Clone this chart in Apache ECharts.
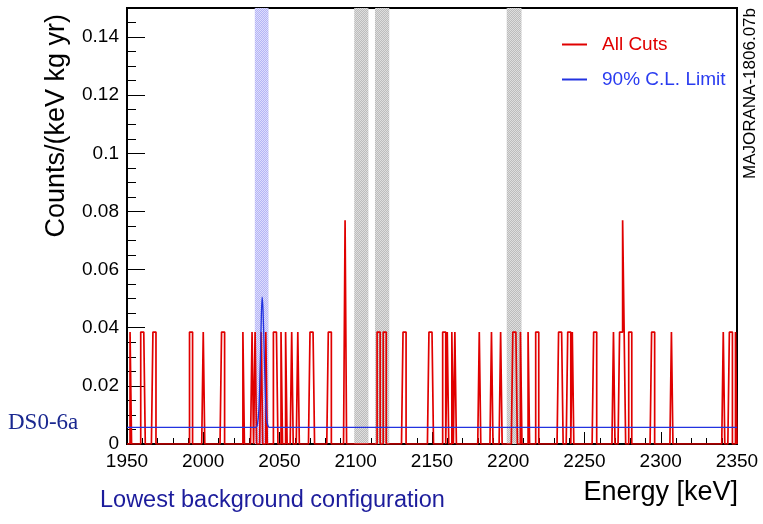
<!DOCTYPE html>
<html>
<head>
    <meta charset="utf-8">
    <title>DS0-6a energy spectrum</title>
    <script src="https://cdn.jsdelivr.net/npm/echarts@6/dist/echarts.min.js"></script>
    <style>
        body { margin: 0; background: #fff; }
        #chart { width: 763px; height: 524px; }
    </style>
</head>
<body>
<div id="chart"></div>
<script>
// events passing all cuts, by 1 keV bin (low edge, keV); repeated = 2 counts
const eventBins = [
    1952, 1959, 1960, 1961, 1967, 1968, 1991, 1992, 2000, 2012, 2013,
    2026, 2032, 2034, 2038, 2041, 2046, 2047, 2048, 2051, 2054, 2058, 2062,
    2070, 2071, 2072, 2082, 2083, 2093, 2093,
    2114, 2115, 2118, 2119, 2131, 2132, 2148, 2149, 2150,
    2157, 2158, 2160, 2163, 2165, 2181, 2189, 2195,
    2203, 2204, 2205, 2208, 2213, 2218, 2219, 2233, 2234, 2235,
    2239, 2240, 2242, 2256, 2257, 2269, 2273, 2274, 2275, 2275, 2276,
    2279, 2280, 2294, 2295, 2307, 2341, 2345, 2346, 2349
];
const countUnit = 0.0385;   // counts/(keV kg yr) for one count

// 90% C.L. limit curve
const limitE = [1950, 2034.5, 2035.5, 2036.5, 2037.3, 2038, 2038.6, 2039.2, 2040, 2040.8, 2041.6, 2042.5, 2043.5, 2350];
const limitY = [0.0057, 0.0057, 0.0066, 0.012, 0.025, 0.042, 0.0505, 0.046, 0.031, 0.016, 0.0085, 0.0062, 0.0057, 0.0057];

// excluded windows
const grayBands = [[2099, 2108.3], [2112.6, 2122], [2199, 2208.7]];
const blueBand = [2033.8, 2042.8];

const xTicks = { min: 1950, max: 2350, step: 50 };
const yTicks = { min: 0, max: 0.15, step: 0.02, minorStep: 0.005 };

// build the histogram outline
const binCount = {};
eventBins.forEach(e => { binCount[e] = (binCount[e] || 0) + 1; });
const histLine = [[xTicks.min, 0]];
for (let e = xTicks.min; e < xTicks.max; e++) {
    const y = (binCount[e] || 0) * countUnit;
    histLine.push([e, y], [e + 1, y]);
}
histLine.push([xTicks.max, 0]);

const limitLine = limitE.map((e, i) => [e, limitY[i]]);

function checker(c1, c2) {
    const cv = document.createElement('canvas');
    cv.width = cv.height = 2;
    const ctx = cv.getContext('2d');
    ctx.fillStyle = c1;
    ctx.fillRect(0, 0, 2, 2);
    ctx.fillStyle = c2;
    ctx.fillRect(0, 0, 1, 1);
    ctx.fillRect(1, 1, 1, 1);
    return { image: cv, repeat: 'repeat' };
}

const font = 'Liberation Sans';
const chart = echarts.init(document.getElementById('chart'));

chart.setOption({
    animation: false,
    textStyle: { fontFamily: font },
    grid: {
        left: 127, right: 26, top: 8, bottom: 80,
        show: true, borderColor: '#000', borderWidth: 2
    },
    legend: {
        orient: 'vertical',
        left: 557, top: 30,
        itemWidth: 25, itemHeight: 2, itemGap: 16,
        icon: 'rect',
        textStyle: { fontSize: 19, fontFamily: font, padding: [0, 0, 0, 10] },
        data: [
            { name: 'All Cuts', textStyle: { color: '#e00000' } },
            { name: '90% C.L. Limit', textStyle: { color: '#2a3cf0' } }
        ]
    },
    xAxis: {
        type: 'value',
        min: xTicks.min, max: xTicks.max, interval: xTicks.step,
        axisLine: { show: false },
        axisTick: { inside: true, length: 12, lineStyle: { color: '#000' } },
        minorTick: { show: true, splitNumber: 5, length: 6, lineStyle: { color: '#000' } },
        splitLine: { show: false },
        axisLabel: { color: '#000', fontSize: 19, margin: 8, formatter: v => String(v) }
    },
    yAxis: [{
        type: 'value',
        min: yTicks.min, max: yTicks.max, interval: yTicks.step,
        axisLine: { show: false },
        axisTick: { inside: true, length: 18, lineStyle: { color: '#000' } },
        splitLine: { show: false },
        axisLabel: {
            color: '#000', fontSize: 19, margin: 8,
            formatter: v => v > 0.145 ? '' : String(+v.toFixed(2))
        }
    }, {
        type: 'value',
        position: 'left',
        min: yTicks.min, max: yTicks.max, interval: yTicks.minorStep,
        axisLine: { show: false },
        axisTick: { inside: true, length: 9, lineStyle: { color: '#000' } },
        splitLine: { show: false },
        axisLabel: { show: false }
    }],
    series: [{
        name: 'bands',
        type: 'line',
        data: [],
        silent: true,
        z: 1,
        markArea: {
            silent: true,
            data: grayBands.map(b => [
                { xAxis: b[0], itemStyle: { color: checker('#bcbcbc', '#dedede') } },
                { xAxis: b[1] }
            ]).concat([[
                { xAxis: blueBand[0], itemStyle: { color: checker('#b4b4f6', '#dedefc') } },
                { xAxis: blueBand[1] }
            ]])
        }
    }, {
        name: 'All Cuts',
        type: 'line',
        data: histLine,
        showSymbol: false,
        color: '#e00000',
        lineStyle: { width: 1.7, color: '#e00000' },
        z: 3
    }, {
        name: '90% C.L. Limit',
        type: 'line',
        data: limitLine,
        showSymbol: false,
        smooth: 0.3,
        color: '#2233e0',
        lineStyle: { width: 1.3, color: '#2233e0' },
        z: 4
    }],
    graphic: [
        {
            type: 'text', x: 57, y: 14, rotation: Math.PI / 2,
            style: { text: 'Counts/(keV kg yr)', font: '27px "Liberation Sans"', fill: '#000', align: 'right', verticalAlign: 'middle' }
        },
        {
            type: 'text', x: 738, y: 493,
            style: { text: 'Energy [keV]', font: '27px "Liberation Sans"', fill: '#000', align: 'right', verticalAlign: 'middle' }
        },
        {
            type: 'text', x: 100, y: 501,
            style: { text: 'Lowest background configuration', font: '23.5px "Liberation Sans"', fill: '#1c1c9c', verticalAlign: 'middle' }
        },
        {
            type: 'text', x: 8, y: 423,
            style: { text: 'DS0-6a', font: '23px "Liberation Serif"', fill: '#1a2890', verticalAlign: 'middle' }
        },
        {
            type: 'text', x: 750, y: 8, rotation: Math.PI / 2,
            style: { text: 'MAJORANA-1806.07b', font: '17px "Liberation Sans"', fill: '#000', align: 'right', verticalAlign: 'middle' }
        }
    ]
});
</script>
</body>
</html>
